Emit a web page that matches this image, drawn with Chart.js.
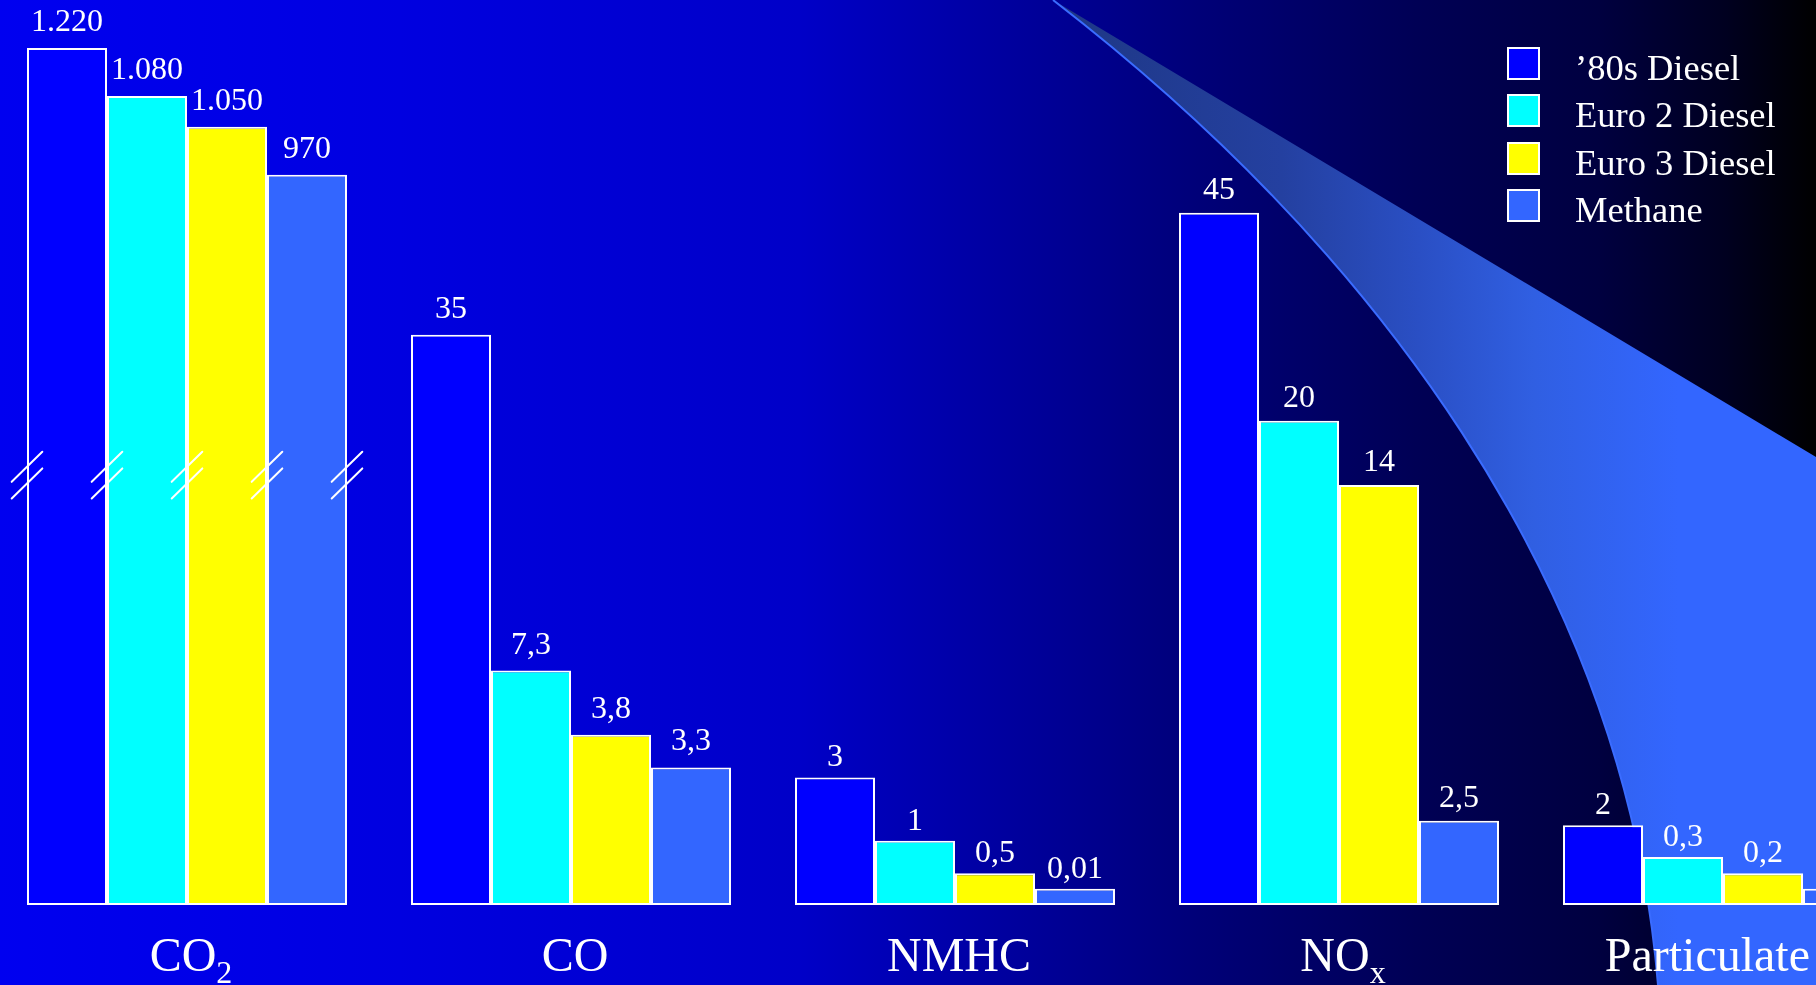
<!DOCTYPE html>
<html><head><meta charset="utf-8">
<script src="https://cdn.jsdelivr.net/npm/chart.js@4"></script>
<style>
html,body{margin:0;padding:0;width:1816px;height:985px;overflow:hidden;}
body{position:relative;background:linear-gradient(to right,#0000f0 0%,#0000e0 22%,#0000c8 44%,#0000a0 55%,#000078 66%,#000055 78%,#000040 88%,#000020 95%,#000000 100%);}
#bg{position:absolute;left:0;top:0;}
#wrap{position:absolute;left:-5px;top:0;width:1920px;height:985px;}
</style></head><body>
<svg id="bg" width="1816" height="985" xmlns="http://www.w3.org/2000/svg">
<defs>
<linearGradient id="sw" gradientUnits="userSpaceOnUse" x1="1052" y1="0" x2="1816" y2="0">
<stop offset="0" stop-color="#1e3784"/>
<stop offset="0.3" stop-color="#2440a0"/>
<stop offset="0.48" stop-color="#2a4fc4"/>
<stop offset="0.63" stop-color="#305fe2"/>
<stop offset="0.82" stop-color="#3366ff"/>
<stop offset="1" stop-color="#3366ff"/>
</linearGradient>
</defs>
<path fill="url(#sw)" d="M1053,0 C1369,244 1625,580 1658,985 L1816,985 L1816,457 Z"/>
<path fill="none" stroke="#3a6cff" stroke-width="2" d="M1053,0 C1369,244 1625,580 1658,985"/>
</svg>
<div id="wrap"><canvas id="c"></canvas></div>
<script>
// ---- data ----
const categories = ['CO₂', 'CO', 'NMHC', 'NOₓ', 'Particulate'];
const categoryMain = ['CO', 'CO', 'NMHC', 'NO', 'Particulate'];
const categorySub = ['2', '', '', 'x', ''];
const seriesNames = ['’80s Diesel', 'Euro 2 Diesel', 'Euro 3 Diesel', 'Methane'];
// drawn bar heights (percent of plot height, the chart is not to scale)
const heights80s   = [94.7, 63.0, 14.1, 76.5, 8.8];
const heightsEuro2 = [89.4, 25.9, 7.1, 53.5, 5.3];
const heightsEuro3 = [86.0, 18.8, 3.5, 46.4, 3.5];
const heightsMeth  = [80.7, 15.2, 1.8, 9.3, 1.8];
// value labels printed above the bars
const labels80s   = ['1.220', '35', '3', '45', '2'];
const labelsEuro2 = ['1.080', '7,3', '1', '20', '0,3'];
const labelsEuro3 = ['1.050', '3,8', '0,5', '14', '0,2'];
const labelsMeth  = ['970', '3,3', '0,01', '2,5', null];
const breakLevel = 47.5;   // where the axis-break marks sit on the CO₂ bars
const brokenCategory = 0;

const colors = ['#0000ff', '#00ffff', '#ffff00', '#3366ff'];
const heights = [heights80s, heightsEuro2, heightsEuro3, heightsMeth];
const valueLabels = [labels80s, labelsEuro2, labelsEuro3, labelsMeth];

const OFFSET = 5; // canvas is shifted 5px left of the page
const serif = '"Liberation Serif", "Times New Roman", serif';
const labelGap = [17, 17, 11, 14, 11];

const decor = {
  id: 'decor',
  afterDatasetsDraw(chart) {
    const ctx = chart.ctx;
    const x = chart.scales.x, y = chart.scales.y;
    ctx.save();
    // value labels
    ctx.fillStyle = '#ffffff';
    ctx.font = '32px ' + serif;
    ctx.textAlign = 'center';
    ctx.textBaseline = 'alphabetic';
    chart.data.datasets.forEach((ds, di) => {
      const meta = chart.getDatasetMeta(di);
      meta.data.forEach((bar, i) => {
        const t = valueLabels[di][i];
        if (t == null) return;
        ctx.fillText(t, bar.x, bar.y - labelGap[i]);
      });
    });
    // axis break marks on CO2 bars
    const cy = y.getPixelForValue(breakLevel);
    const edges = [];
    chart.data.datasets.forEach((ds, di) => {
      const bar = chart.getDatasetMeta(di).data[brokenCategory];
      edges.push(bar.x - bar.width / 2);
      if (di === chart.data.datasets.length - 1) edges.push(bar.x + bar.width / 2);
    });
    ctx.strokeStyle = '#ffffff';
    ctx.lineWidth = 2;
    ctx.lineCap = 'round';
    edges.forEach(cx => {
      ctx.beginPath();
      ctx.moveTo(cx - 15.3, cy + 6.7); ctx.lineTo(cx + 15.3, cy - 23.3);
      ctx.moveTo(cx - 15.3, cy + 23.3); ctx.lineTo(cx + 15.3, cy - 6.7);
      ctx.stroke();
    });
    // category labels with subscripts
    ctx.textAlign = 'left';
    chart.data.labels.forEach((lab, i) => {
      const cx = x.getPixelForValue(i) + 4;
      ctx.font = '48px ' + serif;
      const wm = ctx.measureText(categoryMain[i]).width;
      ctx.font = '32px ' + serif;
      const ws = categorySub[i] ? ctx.measureText(categorySub[i]).width : 0;
      let sx = cx - (wm + ws) / 2;
      const maxRight = 1810 + OFFSET;
      if (sx + wm + ws > maxRight) sx = maxRight - wm - ws;
      const base = chart.chartArea.bottom + 66;
      ctx.font = '48px ' + serif;
      ctx.fillText(categoryMain[i], sx, base);
      if (categorySub[i]) {
        ctx.font = '32px ' + serif;
        ctx.fillText(categorySub[i], sx + wm, base + 12);
      }
    });
    // legend
    const lx = 1507 + OFFSET, tx = 1575 + OFFSET;
    const tops = [47, 94, 142, 189];
    chart.data.datasets.forEach((ds, di) => {
      const ty = tops[di];
      ctx.fillStyle = '#ffffff';
      ctx.fillRect(lx, ty, 33, 33);
      ctx.fillStyle = ds.backgroundColor;
      ctx.fillRect(lx + 2, ty + 2, 29, 29);
      ctx.fillStyle = '#ffffff';
      ctx.font = '36.5px ' + serif;
      ctx.fillText(ds.label, tx, ty + 33);
    });
    ctx.restore();
  }
};

new Chart(document.getElementById('c'), {
  type: 'bar',
  data: {
    labels: categories,
    datasets: seriesNames.map((name, i) => ({
      label: name,
      data: heights[i],
      backgroundColor: colors[i],
      borderColor: '#ffffff',
      borderWidth: 2,
      borderSkipped: false,
      categoryPercentage: 0.8333,
      barPercentage: 1.0
    }))
  },
  options: {
    responsive: true,
    maintainAspectRatio: false,
    animation: false,
    layout: { padding: { top: 0, left: 0, right: 0, bottom: 80 } },
    plugins: { legend: { display: false }, tooltip: { enabled: false } },
    scales: {
      x: { display: false },
      y: { display: false, min: 0, max: 100 }
    }
  },
  plugins: [decor]
});
</script>
</body></html>
